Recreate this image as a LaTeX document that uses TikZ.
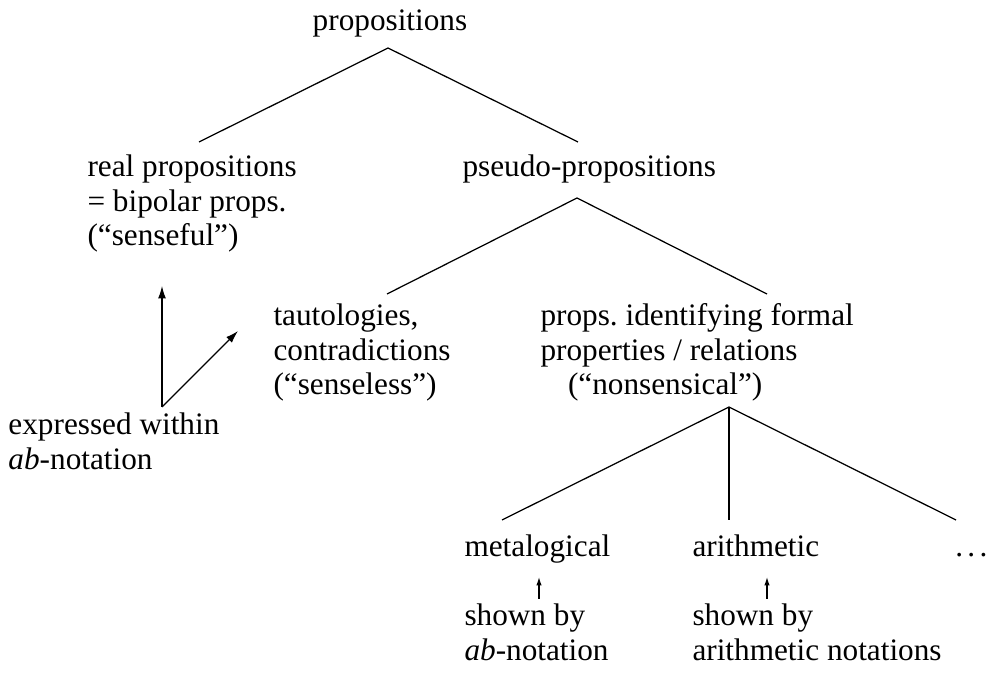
\documentclass[tikz,border=0pt]{standalone}
\usepackage{fontspec}
\setmainfont{Liberation Serif}
\usetikzlibrary{arrows.meta}
\begin{document}
\begin{tikzpicture}[x=0.4pt,y=-0.4pt,
  txt/.style={inner sep=0pt, anchor=base west, font=\fontsize{12.5}{13.8}\selectfont},
  branch/.style={line width=0.5pt},
  bigarrow/.style={line width=0.5pt, -{Latex[length=5pt,width=3.2pt]}},
  smallarrow/.style={line width=0.5pt, -{Latex[length=3.4pt,width=2.2pt]}}]
\useasboundingbox (0,0) rectangle (988,677);
% texts
\node[txt, anchor=base] (prop) at (390,31) {propositions};
\node[txt] (real) at (87,177) {\begin{tabular}[t]{@{}l@{}}real propositions\\= bipolar props.\\(``senseful'')\end{tabular}};
\node[txt] (pseudo) at (462,177) {pseudo-propositions};
\node[txt] (taut) at (273,326) {\begin{tabular}[t]{@{}l@{}}tautologies,\\contradictions\\(``senseless'')\end{tabular}};
\node[txt] (formal) at (540,326) {\begin{tabular}[t]{@{}l@{}}props.\ identifying formal\\properties / relations\\\hspace*{11pt}(``nonsensical'')\end{tabular}};
\node[txt] (expr) at (8,435) {\begin{tabular}[t]{@{}l@{}}expressed within\\\textit{ab}-notation\end{tabular}};
\node[txt] (meta) at (464,557) {metalogical};
\node[txt] (arith) at (692,557) {arithmetic};
\node[txt, anchor=base east] (dots) at (988,557) {.\kern0.14em.\kern0.14em.};
\node[txt] (shownab) at (464,626) {\begin{tabular}[t]{@{}l@{}}shown by\\\textit{ab}-notation\end{tabular}};
\node[txt] (shownar) at (692,626) {\begin{tabular}[t]{@{}l@{}}shown by\\arithmetic notations\end{tabular}};
% branch points
\coordinate (a0) at (388,48);
\coordinate (a0l) at (199,142);
\coordinate (a0r) at (578,142);
\coordinate (a1) at (577,198);
\coordinate (a1l) at (387,294);
\coordinate (a1r) at (767,294);
\coordinate (a2) at (729,407);
\coordinate (a2l) at (502,520);
\coordinate (a2m) at (729,520);
\coordinate (a2r) at (956,520);
\draw[branch] (a0l) -- (a0) -- (a0r);
\draw[branch] (a1l) -- (a1) -- (a1r);
\draw[branch] (a2l) -- (a2) -- (a2r);
\draw[branch] (a2) -- (a2m);
% arrows
\coordinate (o) at (162,407);
\coordinate (oup) at (162,286);
\coordinate (odiag) at (238,331);
\draw[bigarrow] (o) -- (oup);
\draw[bigarrow] (o) -- (odiag);
\coordinate (m1) at (539,599);
\coordinate (m2) at (539,577);
\coordinate (r1) at (767,599);
\coordinate (r2) at (767,577);
\draw[smallarrow] (m1) -- (m2);
\draw[smallarrow] (r1) -- (r2);
\end{tikzpicture}
\end{document}
